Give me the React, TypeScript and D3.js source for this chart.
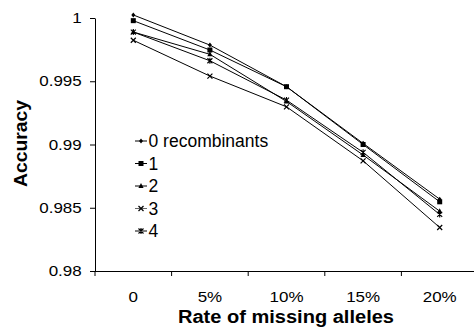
import React, { useRef, useEffect } from "react";
import * as d3 from "d3";

const categories = ["0", "5%", "10%", "15%", "20%"];
const seriesNames = ["0 recombinants", "1", "2", "3", "4"];
const s0 = [1.00024, 0.99786, 0.99457, 0.99009, 0.98568];
const s1 = [0.99979, 0.99747, 0.99457, 0.99, 0.98547];
const s2 = [0.99889, 0.99713, 0.9934, 0.98917, 0.98473];
const s3 = [0.99824, 0.99541, 0.99298, 0.98871, 0.98344];
const s4 = [0.99889, 0.99662, 0.99351, 0.98938, 0.98447];
const yTicks = [0.98, 0.985, 0.99, 0.995, 1];

const series = [s0, s1, s2, s3, s4];

const drawMarker = (g: any, kind: number, x: number, y: number) => {
  const m = g.append("g").attr("transform", `translate(${x},${y})`);
  if (kind === 0) {
    m.append("path").attr("d", "M0,-2.5L2,0L0,2.5L-2,0Z").attr("fill", "#000");
  } else if (kind === 1) {
    m.append("rect").attr("x", -2.5).attr("y", -2.5).attr("width", 5).attr("height", 5).attr("fill", "#000");
  } else if (kind === 2) {
    m.append("path").attr("d", "M0,-3L2.6,2L-2.6,2Z").attr("fill", "#000");
  } else if (kind === 3) {
    m.append("path").attr("d", "M-2.5,-2.5L2.5,2.5M-2.5,2.5L2.5,-2.5").attr("stroke", "#000").attr("stroke-width", 1.2);
  } else {
    m.append("path").attr("d", "M-2.5,-2.5L2.5,2.5M-2.5,2.5L2.5,-2.5M0,-3L0,3").attr("stroke", "#000").attr("stroke-width", 1.1);
  }
};

const App = () => {
  const ref = useRef<SVGSVGElement>(null);

  useEffect(() => {
    const svg = d3.select(ref.current);
    svg.selectAll("*").remove();
    const left = 95;
    const top = 18;
    const bottom = 271;

    const xScale = d3.scaleBand().domain(categories).range([left, 478]);
    const yScale = d3.scaleLinear().domain([0.98, 1]).range([bottom, top]);

    const font = "Liberation Sans, Arial, sans-serif";

    // y axis
    const yAxis = svg
      .append("g")
      .attr("transform", `translate(${left},0)`)
      .call(d3.axisLeft(yScale).tickValues(yTicks).tickSize(5).tickSizeOuter(0).tickFormat((d: any) => String(+d.toFixed(3))));
    yAxis.select(".domain").attr("stroke", "#000");
    yAxis
      .selectAll("text")
      .attr("font-family", font)
      .attr("font-size", 14.5)
      .attr("fill", "#000")
      .attr("x", -11.4)
      .attr("transform", "scale(1.17,1)");

    // x axis
    const xAxis = svg
      .append("g")
      .attr("transform", `translate(0,${bottom})`)
      .call(d3.axisBottom(xScale).tickSize(0).tickSizeOuter(0));
    xAxis.select(".domain").attr("d", `M${left - 5},0.5H474`).attr("stroke", "#000");
    xAxis
      .selectAll("text")
      .attr("font-family", font)
      .attr("font-size", 14.5)
      .attr("fill", "#000")
      .attr("y", 31)
      .attr("dy", 0)
      .attr("transform", "scale(1.17,1)");
    const step = xScale.step();
    xAxis
      .selectAll(".sep")
      .data(d3.range(0, categories.length + 1))
      .join("line")
      .attr("x1", (i: number) => left + i * step)
      .attr("x2", (i: number) => left + i * step)
      .attr("y1", 0)
      .attr("y2", 5)
      .attr("stroke", "#000");

    const cx = (i: number) => (xScale(categories[i]) as number) + xScale.bandwidth() / 2;
    const line = d3
      .line<number>()
      .x((_, i) => cx(i))
      .y((d) => yScale(d));

    series.forEach((vals, k) => {
      svg.append("path").attr("d", line(vals)).attr("fill", "none").attr("stroke", "#000").attr("stroke-width", 1);
      const g = svg.append("g");
      vals.forEach((v, i) => drawMarker(g, k, cx(i), yScale(v)));
    });

    // legend
    const lg = svg.append("g");
    seriesNames.forEach((name, k) => {
      const y = 141 + k * 22.5;
      lg.append("line").attr("x1", 135).attr("x2", 147).attr("y1", y).attr("y2", y).attr("stroke", k === 3 ? "#666" : "#000");
      drawMarker(lg, k, 141, y);
      lg.append("text")
        .attr("x", 148.5)
        .attr("y", y)
        .attr("dy", "0.36em")
        .attr("font-family", font)
        .attr("font-size", 17.5)
        .text(name);
    });

    // axis titles
    svg
      .append("text")
      .attr("x", 286)
      .attr("y", 323)
      .attr("text-anchor", "middle")
      .attr("font-family", font)
      .attr("font-weight", "bold")
      .attr("font-size", 18)
      .attr("textLength", 216)
      .attr("lengthAdjust", "spacingAndGlyphs")
      .text("Rate of missing alleles");
    svg
      .append("text")
      .attr("transform", "translate(27,143.5) rotate(-90)")
      .attr("text-anchor", "middle")
      .attr("font-family", font)
      .attr("font-weight", "bold")
      .attr("font-size", 18)
      .attr("textLength", 87)
      .attr("lengthAdjust", "spacingAndGlyphs")
      .text("Accuracy");
  }, []);

  return (
    <svg
      ref={ref}
      width={474}
      height={327}
      style={{ position: "absolute", left: 0, top: 0, background: "#fff" }}
    />
  );
};

export default App;
